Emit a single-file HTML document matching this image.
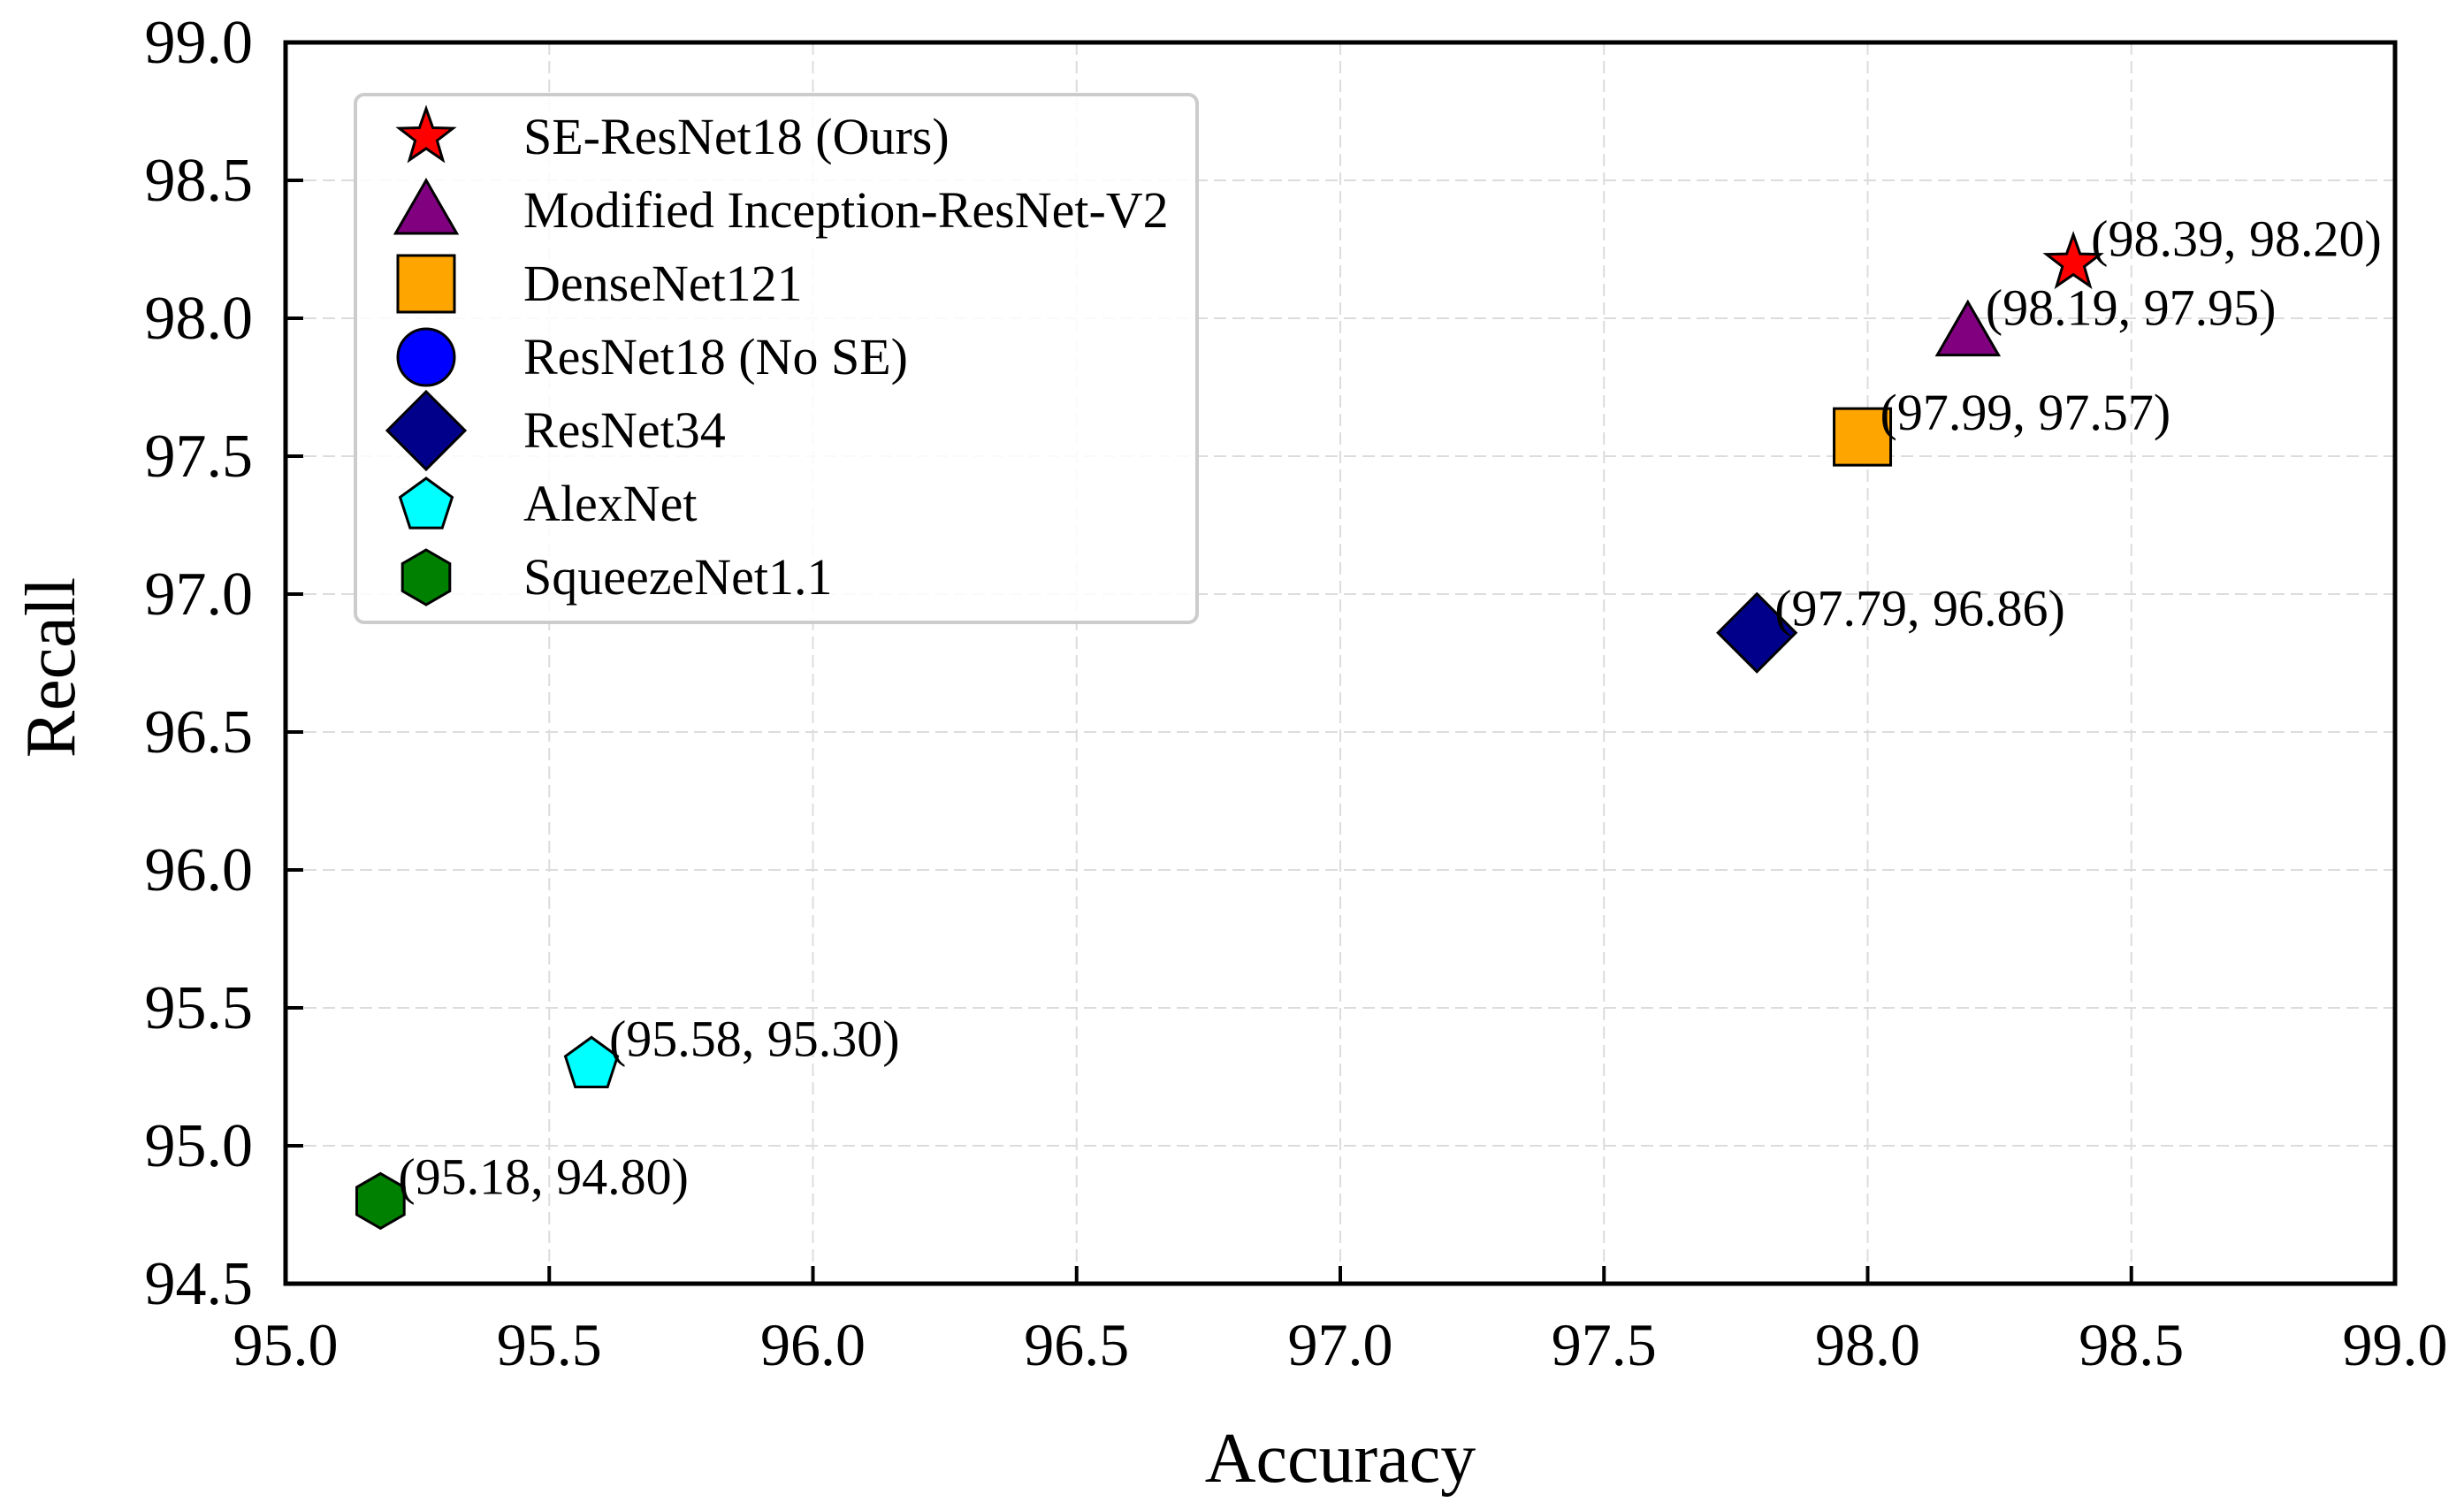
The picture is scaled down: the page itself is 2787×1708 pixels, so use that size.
<!DOCTYPE html>
<html><head><meta charset="utf-8"><style>
html,body{margin:0;padding:0;background:#fff;}
svg{display:block;font-family:"Liberation Serif",serif;}
</style></head><body>
<svg id="chart" width="2787" height="1708" viewBox="0 0 2787 1708" xmlns="http://www.w3.org/2000/svg">
<g id="grid"></g>
<g id="points"></g>
<g id="axes"></g>
<g id="legend"></g>
<text x="1516" y="1676" font-size="80" text-anchor="middle">Accuracy</text>
<text x="0" y="0" font-size="80" text-anchor="middle" transform="translate(84,755) rotate(-90)">Recall</text>
</svg>
<script>
const models = ["SE-ResNet18 (Ours)","Modified Inception-ResNet-V2","DenseNet121","ResNet18 (No SE)","ResNet34","AlexNet","SqueezeNet1.1"];
const accuracy = [98.39, 98.19, 97.99, null, 97.79, 95.58, 95.18];
const recall = [98.20, 97.95, 97.57, null, 96.86, 95.30, 94.80];
const xTicks = ["95.0","95.5","96.0","96.5","97.0","97.5","98.0","98.5","99.0"];
const yTicks = ["94.5","95.0","95.5","96.0","96.5","97.0","97.5","98.0","98.5","99.0"];

const NS="http://www.w3.org/2000/svg";
const L=323,R=2709,T=48,B=1452;
const X=v=>L+(v-95)/4*(R-L);
const Y=v=>B-(v-94.5)/4.5*(B-T);
const shapes=["star","triangle","square","circle","diamond","pentagon","hexagon"];
const colors=["#ff0000","#800080","#ffa500","#0000ff","#00008b","#00ffff","#008000"];
function mk(tag,attrs,parent){const e=document.createElementNS(NS,tag);for(const k in attrs)e.setAttribute(k,attrs[k]);parent.appendChild(e);return e;}
function poly(n,r,rot,cx,cy){let p=[];for(let i=0;i<n;i++){const a=rot+i*2*Math.PI/n;p.push((cx+r*Math.cos(a)).toFixed(1)+","+(cy+r*Math.sin(a)).toFixed(1));}return p.join(" ");}
function marker(shape,cx,cy,color,parent){
  const st={fill:color,stroke:"#000","stroke-width":3,"stroke-linejoin":"miter"};
  let e;
  if(shape==="star"){let p=[];for(let i=0;i<10;i++){const r=i%2?13:32;const a=-Math.PI/2+i*Math.PI/5;p.push((cx+r*Math.cos(a)).toFixed(1)+","+(cy+r*Math.sin(a)).toFixed(1));}e=mk("polygon",Object.assign({points:p.join(" ")},st),parent);}
  else if(shape==="triangle")e=mk("polygon",Object.assign({points:poly(3,40,-Math.PI/2,cx,cy+6)},st),parent);
  else if(shape==="square")e=mk("rect",Object.assign({x:cx-32,y:cy-32,width:64,height:64},st),parent);
  else if(shape==="circle")e=mk("circle",Object.assign({cx:cx,cy:cy,r:32},st),parent);
  else if(shape==="diamond")e=mk("polygon",Object.assign({points:poly(4,44,-Math.PI/2,cx,cy)},st),parent);
  else if(shape==="pentagon")e=mk("polygon",Object.assign({points:poly(5,31,-Math.PI/2,cx,cy+2)},st),parent);
  else e=mk("polygon",Object.assign({points:poly(6,31,-Math.PI/2,cx,cy)},st),parent);
  return e;
}
const grid=document.getElementById("grid"),axes=document.getElementById("axes"),pts=document.getElementById("points"),leg=document.getElementById("legend");
xTicks.forEach(t=>{const x=X(parseFloat(t));
  const g=mk("line",{x1:x,x2:x,y1:T,y2:B,stroke:"#dcdcdc","stroke-width":2,"stroke-dasharray":"14,7"},grid);
  
  
  const tk=mk("line",{x1:x,x2:x,y1:B,y2:B-20,stroke:"#000","stroke-width":4},axes);
  
  
  const tx=mk("text",{x:x,y:1544,"font-size":68,"text-anchor":"middle"},axes);tx.textContent=t;
  
  
});
yTicks.forEach(t=>{const y=Y(parseFloat(t));
  const g=mk("line",{x1:L,x2:R,y1:y,y2:y,stroke:"#dcdcdc","stroke-width":2,"stroke-dasharray":"14,7"},grid);
  
  
  const tk=mk("line",{x1:L,x2:L+20,y1:y,y2:y,stroke:"#000","stroke-width":4},axes);
  
  
  const tx=mk("text",{x:286,y:y+23,"font-size":70,"text-anchor":"end"},axes);tx.textContent=t;
  
  
});
const frame=mk("rect",{x:L,y:T,width:R-L,height:B-T,fill:"none",stroke:"#000","stroke-width":5},axes);


models.forEach((m,i)=>{
  if(accuracy[i]==null)return;
  const cx=X(accuracy[i]),cy=Y(recall[i]);
  const e=marker(shapes[i],cx,cy,colors[i],pts);
  
  
  const t=mk("text",{x:cx+20,y:cy-8,"font-size":58},pts);
  t.textContent="("+accuracy[i].toFixed(2)+", "+recall[i].toFixed(2)+")";
  
  
});
const box=mk("rect",{x:402,y:107,width:952,height:597,rx:10,fill:"#fff","fill-opacity":0.85,stroke:"#cccccc","stroke-width":4},leg);


models.forEach((m,i)=>{
  const y=155+i*83;
  const e=marker(shapes[i],482,y,colors[i],leg);
  
  
  const t=mk("text",{x:592,y:y+19,"font-size":58},leg);t.textContent=m;
  
  
});
</script>
</body></html>
